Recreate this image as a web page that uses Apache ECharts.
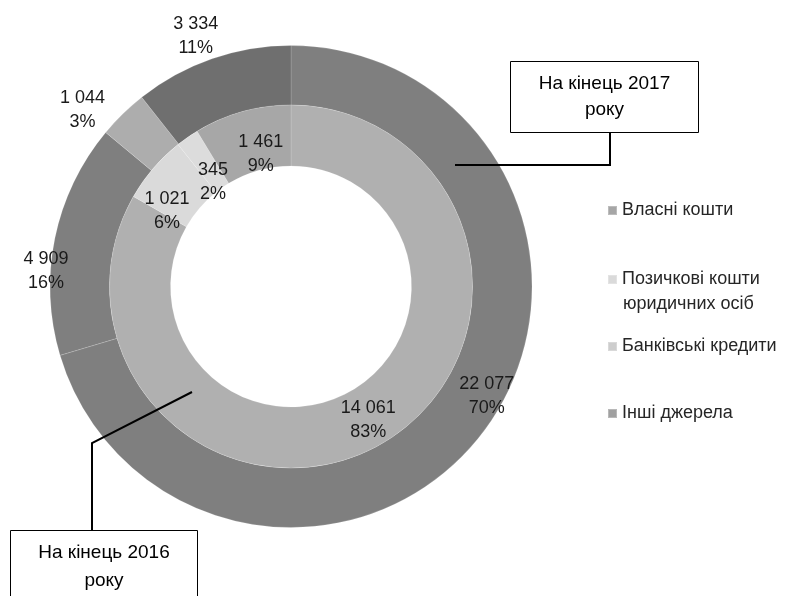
<!DOCTYPE html>
<html>
<head>
<meta charset="utf-8">
<script src="https://cdn.jsdelivr.net/npm/echarts@6/dist/echarts.min.js"></script>
<style>
  html, body { margin: 0; padding: 0; background: #fff; }
  #chart { width: 790px; height: 596px; }
</style>
</head>
<body>
<div id="chart"></div>
<script>
// категорії джерел фінансування
const categories = ['Власні кошти', 'Позичкові кошти юридичних осіб', 'Банківські кредити', 'Інші джерела'];
// порядок сегментів як на діаграмі (за годинниковою стрілкою від верху)
const order2017 = ['Власні кошти', 'Інші джерела', 'Банківські кредити', 'Позичкові кошти юридичних осіб'];
const values2017 = [22077, 4909, 1044, 3334];
const order2016 = ['Власні кошти', 'Позичкові кошти юридичних осіб', 'Банківські кредити', 'Інші джерела'];
const values2016 = [14061, 1021, 345, 1461];

// кольори сегментів
const colors2017 = ['#7f7f7f', '#7f7f7f', '#adadad', '#6f6f6f'];
const colors2016 = ['#b0b0b0', '#dadada', '#dcdcdc', '#a7a7a7'];
const legendColors = ['#a6a6a6', '#dadada', '#cdcdcd', '#a0a0a0'];
// зсуви підписів
const offsets2017 = [[24, -19], [-35, 28], [-59, -23], [-25, -48]];
const offsets2016 = [[0, 0], [-7, 25], [10, 22], [11, 16]];

const fmt = (v) => String(v).replace(/\B(?=(\d{3})+(?!\d))/g, ' ');
const FONT = '"Liberation Sans", Arial, sans-serif';

const chart = echarts.init(document.getElementById('chart'));

const labelCfg = {
  show: true,
  position: 'inside',
  color: '#1a1a1a',
  fontSize: 18,
  fontFamily: FONT,
  lineHeight: 24,
  formatter: (p) => fmt(p.value) + '\n' + Math.round(p.percent) + '%'
};

const legendTops = [200, 269, 336, 403];

const option = {
  animation: false,
  legend: categories.map((name, i) => ({
    orient: 'vertical',
    left: 607,
    top: legendTops[i],
    padding: 0,
    itemWidth: 9,
    itemHeight: 9,
    icon: 'rect',
    formatter: (n) => n === 'Позичкові кошти юридичних осіб' ? 'Позичкові кошти' : n,
    textStyle: { fontSize: 18, fontFamily: FONT, color: '#262626', lineHeight: 21 },
    data: [{ name: name, itemStyle: { color: legendColors[i] } }]
  })),
  series: [
    {
      name: 'На кінець 2017 року',
      type: 'pie',
      center: [291, 286.5],
      radius: [181.5, 241],
      startAngle: 90,
      clockwise: true,
      label: labelCfg,
      labelLine: { show: false },
      labelLayout: (p) => ({ dx: offsets2017[p.dataIndex][0], dy: offsets2017[p.dataIndex][1] }),
      itemStyle: { borderColor: 'rgba(255,255,255,0.25)', borderWidth: 0.6 },
      emphasis: { disabled: true },
      data: values2017.map((v, i) => ({ name: order2017[i], value: v, itemStyle: { color: colors2017[i] } }))
    },
    {
      name: 'На кінець 2016 року',
      type: 'pie',
      center: [291, 286.5],
      radius: [120.5, 181.5],
      startAngle: 90,
      clockwise: true,
      label: labelCfg,
      labelLine: { show: false },
      labelLayout: (p) => ({ dx: offsets2016[p.dataIndex][0], dy: offsets2016[p.dataIndex][1] }),
      itemStyle: { borderColor: 'rgba(255,255,255,0.25)', borderWidth: 0.6 },
      emphasis: { disabled: true },
      data: values2016.map((v, i) => ({ name: order2016[i], value: v, itemStyle: { color: colors2016[i] } }))
    }
  ],
  graphic: [
    // друга строка легенди
    {
      type: 'text', left: 623, top: 295, z: 100,
      style: { text: 'юридичних осіб', font: '18px ' + FONT, fill: '#262626' }
    },
    // виноска 2017
    {
      type: 'polyline', z: 100,
      shape: { points: [[610, 132], [610, 165], [455, 165]] },
      style: { stroke: '#000', lineWidth: 2, fill: null }
    },
    {
      type: 'rect', z: 100,
      shape: { x: 510.5, y: 61.5, width: 188, height: 71 },
      style: { fill: '#fff', stroke: '#000', lineWidth: 1 }
    },
    {
      type: 'text', z: 101, x: 604.5, y: 97,
      style: { text: 'На кінець 2017\nроку', font: '19px ' + FONT, fill: '#000', align: 'center', verticalAlign: 'middle', lineHeight: 26 }
    },
    // виноска 2016
    {
      type: 'polyline', z: 100,
      shape: { points: [[192, 392], [92, 443], [92, 531]] },
      style: { stroke: '#000', lineWidth: 2, fill: null }
    },
    {
      type: 'rect', z: 100,
      shape: { x: 10.5, y: 530.5, width: 187, height: 80 },
      style: { fill: '#fff', stroke: '#000', lineWidth: 1 }
    },
    {
      type: 'text', z: 101, x: 104, y: 567,
      style: { text: 'На кінець 2016\nроку', font: '19px ' + FONT, fill: '#000', align: 'center', verticalAlign: 'middle', lineHeight: 28 }
    }
  ]
};

chart.setOption(option);
window.addEventListener('resize', () => chart.resize());
</script>
</body>
</html>
